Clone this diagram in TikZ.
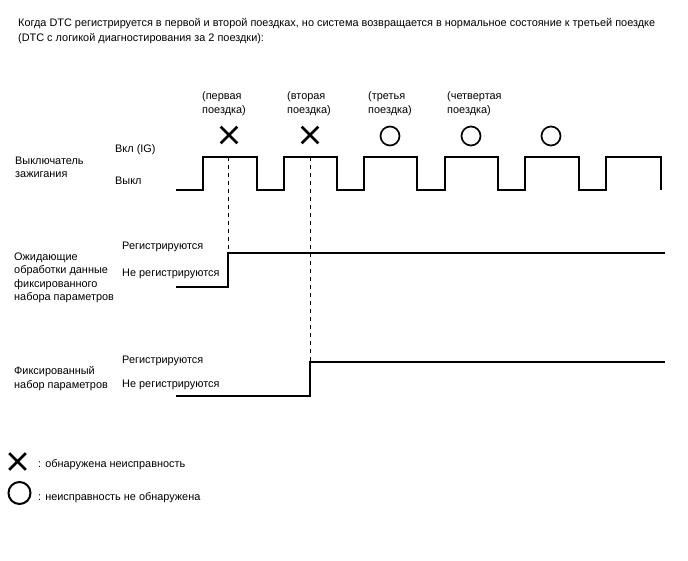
\documentclass[tikz,border=0pt]{standalone}
\usepackage{fontspec}
\setmainfont{Liberation Sans}
\usetikzlibrary{shapes.misc}

\tikzset{
  txt/.style={font=\fontsize{10.9}{13.5}\selectfont, inner sep=0pt, align=left, anchor=north west, yshift=-2.5pt},
  sig/.style={line width=1.4pt, line join=miter},
  xmark/.style={cross out, draw, line width=2.7pt, minimum size=14pt, inner sep=0pt},
  omark/.style={circle, draw, line width=1.7pt, minimum size=19pt, inner sep=0pt},
  guide/.style={dash pattern=on 4pt off 4pt, line width=0.9pt}
}

\begin{document}
\begin{tikzpicture}[x=1pt, y=-1pt]
  \useasboundingbox (0,0) rectangle (688,560);
  % title
  \node[txt, font=\fontsize{10.9}{15}\selectfont] (title) at (18,16) {Когда DTC регистрируется в первой и второй поездках, но система возвращается в нормальное состояние к третьей поездке\\(DTC с логикой диагностирования за 2 поездки):};

  % trips
  \node[txt] (t1) at (202,89) {(первая\\поездка)};
  \node[txt] (t2) at (287,89) {(вторая\\поездка)};
  \node[txt] (t3) at (368,89) {(третья\\поездка)};
  \node[txt] (t4) at (447,89) {(четвертая\\поездка)};
  \node[xmark] (m1) at (229,135) {};
  \node[xmark] (m2) at (310,135) {};
  \node[omark] (m3) at (390,136) {};
  \node[omark] (m4) at (471,136) {};
  \node[omark] (m5) at (551,136) {};

  % ignition switch
  \node[txt] (ign) at (15,154) {Выключатель\\зажигания};
  \node[txt] (on) at (115,142) {Вкл (IG)};
  \node[txt] (off) at (115,174) {Выкл};
  \draw[sig] (176,190)
    \foreach \r/\f in {203/257, 284/337, 364/417, 445/498, 525/579, 606/661} {
      -- (\r,190) -- (\r,157) -- (\f,157) -- (\f,190)
    };

  % freeze frame pending
  \node[txt] (pend) at (14,250) {Ожидающие\\обработки данные\\фиксированного\\набора параметров};
  \node[txt] (reg1) at (122,239) {Регистрируются};
  \node[txt] (nreg1) at (122,266) {Не регистрируются};
  \coordinate (s1) at (228,253);
  \draw[sig, line width=1.2pt] (176,287) -| (s1) -- (665,253);

  % freeze frame
  \node[txt] (ff) at (14,364) {Фиксированный\\набор параметров};
  \node[txt] (reg2) at (122,353) {Регистрируются};
  \node[txt] (nreg2) at (122,377) {Не регистрируются};
  \coordinate (s2) at (310,362);
  \draw[sig, line width=1.2pt] (176,396) -| (s2) -- (665,362);

  % dashed guides
  \draw[guide] (228,157) -- (s1);
  \draw[guide] (310,157) -- (s2);

  % legend
  \node[xmark] (lx) at (17.5,461.5) {};
  \node[txt, anchor=west] (lxt) at (38,462) {: обнаружена неисправность};
  \node[omark, minimum size=22pt, line width=2pt] (lo) at (19.5,493) {};
  \node[txt, anchor=west] (lot) at (38,495) {: неисправность не обнаружена};
\end{tikzpicture}
\end{document}
